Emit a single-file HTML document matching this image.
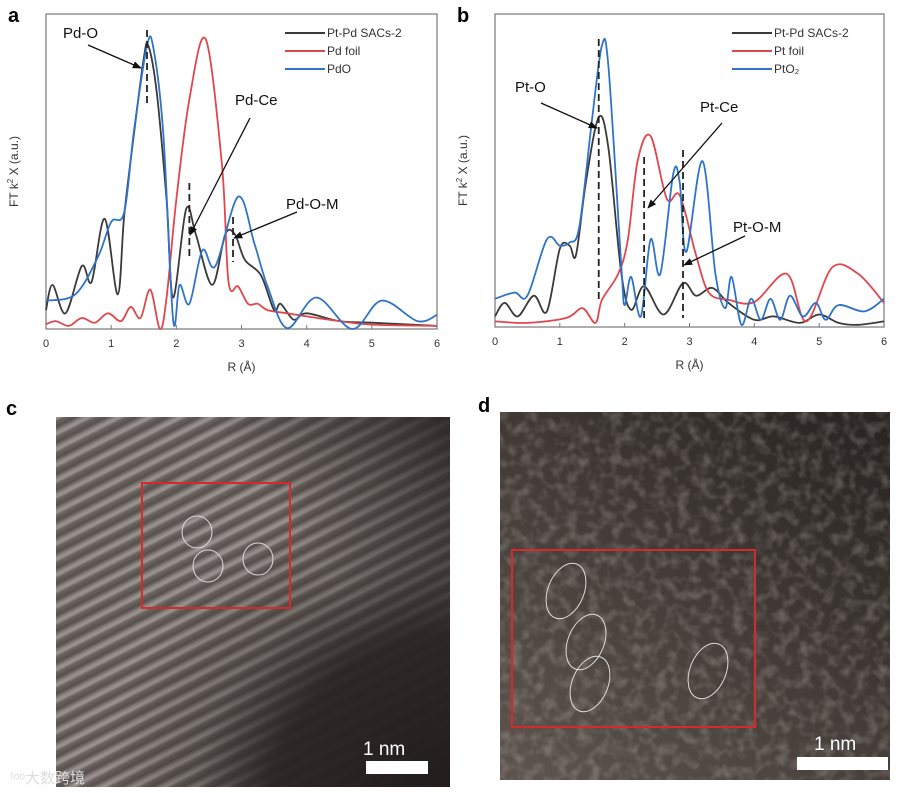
<!DOCTYPE html>
<html><head><meta charset="utf-8"><style>
body{margin:0;background:#fff;width:905px;height:793px;overflow:hidden;font-family:"Liberation Sans","Noto Sans CJK SC",sans-serif}
svg{position:absolute;left:0;top:0}
</style></head><body>
<svg id="fig" width="905" height="793" viewBox="0 0 905 793">
<defs>
<marker id="ah" viewBox="0 0 10 10" refX="9" refY="5" markerWidth="7" markerHeight="7" orient="auto"><path d="M0,1 L10,5 L0,9 z" fill="#111"/></marker>
<linearGradient id="sg" x1="0" y1="0" x2="0" y2="1">
<stop offset="0" stop-color="#57504d"/><stop offset="0.3" stop-color="#8f8884"/><stop offset="0.45" stop-color="#9c9591"/><stop offset="0.65" stop-color="#6a6360"/><stop offset="1" stop-color="#57504d"/>
</linearGradient>
<pattern id="stripes" width="14" height="14" patternUnits="userSpaceOnUse" patternTransform="rotate(-27)">
<rect width="14" height="14" fill="url(#sg)"/>
</pattern>
<radialGradient id="cdark" cx="1.05" cy="1.1" r="0.95">
<stop offset="0" stop-color="#1e1a19" stop-opacity="1"/><stop offset="0.55" stop-color="#2a2523" stop-opacity="0.95"/><stop offset="0.75" stop-color="#2a2523" stop-opacity="0.3"/><stop offset="1" stop-color="#2a2523" stop-opacity="0"/>
</radialGradient>
<linearGradient id="ctop" x1="1" y1="0" x2="0.6" y2="0.3"><stop offset="0" stop-color="#2a2523" stop-opacity="0.9"/><stop offset="1" stop-color="#2a2523" stop-opacity="0"/></linearGradient>
<filter id="noise" x="0" y="0" width="100%" height="100%"><feTurbulence type="fractalNoise" baseFrequency="0.09" numOctaves="2" seed="3"/><feColorMatrix type="matrix" values="0 0 0 0 0.62  0 0 0 0 0.56  0 0 0 0 0.52  0 0 0 1.2 -0.5"/></filter>
<linearGradient id="dgrad" x1="0.1" y1="1" x2="0.9" y2="0"><stop offset="0" stop-color="#5c534d"/><stop offset="0.5" stop-color="#433c38"/><stop offset="1" stop-color="#2a2522"/></linearGradient>
</defs>
<g id="chartA"></g>
<g id="chartB"></g>

<text x="6" y="415" font-size="20" font-weight="bold">c</text>
<g>
<rect x="56" y="417" width="394" height="370" fill="url(#stripes)"/>
<rect x="56" y="417" width="394" height="370" fill="url(#ctop)"/>
<rect x="56" y="417" width="394" height="370" fill="url(#cdark)"/>
<rect x="142" y="483" width="148" height="125" fill="none" stroke="#d42a2a" stroke-width="2"/>
<ellipse cx="197" cy="532" rx="15" ry="16" fill="none" stroke="#ddd" stroke-width="1"/>
<ellipse cx="208" cy="566" rx="15" ry="16" fill="none" stroke="#ddd" stroke-width="1"/>
<ellipse cx="258" cy="559" rx="15" ry="16" fill="none" stroke="#ddd" stroke-width="1"/>
<text x="363" y="755" font-size="19" fill="#fff">1 nm</text>
<rect x="366" y="761" width="62" height="13" fill="#fff"/>
<text x="10" y="783" font-size="15" fill="#ddd">⁽ᵒᵒ大数跨境</text>
</g>

<text x="478" y="412" font-size="20" font-weight="bold">d</text>
<g>
<rect x="500" y="412" width="390" height="368" fill="url(#dgrad)"/>
<rect x="500" y="412" width="390" height="368" filter="url(#noise)" opacity="0.55"/>
<rect x="512" y="550" width="243" height="177" fill="none" stroke="#d42a2a" stroke-width="2"/>
<ellipse cx="566" cy="591" rx="18" ry="29" transform="rotate(22 566 591)" fill="none" stroke="#ddd" stroke-width="1"/>
<ellipse cx="586" cy="642" rx="18" ry="29" transform="rotate(22 586 642)" fill="none" stroke="#ddd" stroke-width="1"/>
<ellipse cx="590" cy="684" rx="18" ry="29" transform="rotate(22 590 684)" fill="none" stroke="#ddd" stroke-width="1"/>
<ellipse cx="708" cy="671" rx="18" ry="29" transform="rotate(22 708 671)" fill="none" stroke="#ddd" stroke-width="1"/>
<text x="814" y="750" font-size="19" fill="#fff">1 nm</text>
<rect x="797" y="757" width="91" height="13" fill="#fff"/>
</g>
</svg>
<script>
const xTicks=[0,1,2,3,4,5,6];
const aBlackR=[0,0.1,0.3,0.55,0.7,0.9,1.1,1.2,1.35,1.5,1.57,1.7,1.85,1.95,2.15,2.3,2.55,2.75,2.9,3.05,3.3,3.5,3.6,3.8,4.0,4.5,5,6];
const aBlackY=[6,14,5,20,15,35,11,36,62,86,90,75,41,10,38,30,14,30,30,22,17,6,8,3,5,2.5,2,1];
const aRedR=[0,0.15,0.35,0.55,0.75,0.95,1.15,1.3,1.45,1.6,1.75,1.85,2.0,2.2,2.45,2.7,2.8,2.95,3.1,3.25,3.4,3.7,4.0,4.5,5,6];
const aRedY=[1.5,2.5,1,3.5,2,5,2.5,7,3.5,12.5,0,10,41,73,92,52,15,13.5,8,8,6,5,4,2.5,1.4,1];
const aBlueR=[0,0.45,0.8,1.0,1.2,1.35,1.55,1.65,1.8,1.95,2.05,2.2,2.4,2.6,2.95,3.2,3.4,3.7,4.15,4.7,5.15,5.7,6];
const aBlueY=[9,11,23,34,37,63,90,89,62,3,14,8,25,20,42,27,13.5,0.3,10,0,9,2.5,4.5];
const bBlackR=[0,0.15,0.35,0.6,0.8,1.0,1.15,1.25,1.4,1.6,1.75,1.95,2.1,2.3,2.6,2.9,3.1,3.35,3.6,4.0,4.3,4.7,5.0,5.3,5.6,6];
const bBlackY=[3.4,7.7,3.4,10,5,25,26,23,46,67,57,17,5.5,13,4,14,10,12.5,7.7,2.3,3.4,1.3,4,1.3,0.7,1.8];
const bRedR=[0,0.5,1.1,1.35,1.55,1.65,1.9,2.05,2.2,2.4,2.65,2.85,3.1,3.3,3.6,4.0,4.5,4.8,5.2,5.6,6];
const bRedY=[1.8,1.3,2.9,6,1.3,8.7,17,28,53,61,41,42,23,11,8.7,8,17,1.8,19,17,7.7];
const bBlueR=[0,0.3,0.5,0.8,1.0,1.15,1.3,1.5,1.65,1.75,1.95,2.0,2.1,2.25,2.4,2.55,2.75,2.85,2.95,3.2,3.4,3.55,3.65,3.8,3.95,4.1,4.25,4.4,4.55,4.75,4.95,5.1,5.3,5.7,6];
const bBlueY=[9,11,10,28,26,27,32,67,90,83,19,7,16,3.4,28,17,49,46,24,53,17,6,16,0.7,9,2.3,9,2.3,10,3.4,7.7,2.3,7,5,9];
const aLegend=["Pt-Pd SACs-2","Pd foil","PdO"];
const bLegend=["Pt-Pd SACs-2","Pt foil","PtO₂"];
const colors=["#3a3a3a","#e0474c","#2f74c8"];
const NS="http://www.w3.org/2000/svg";
function mk(tag,attrs,parent){const e=document.createElementNS(NS,tag);for(const k in attrs)e.setAttribute(k,attrs[k]);parent.appendChild(e);return e;}
function smooth(pts){let d="M"+pts[0][0].toFixed(1)+","+pts[0][1].toFixed(1);for(let i=0;i<pts.length-1;i++){const p0=pts[Math.max(0,i-1)],p1=pts[i],p2=pts[i+1],p3=pts[Math.min(pts.length-1,i+2)];const c1=[p1[0]+(p2[0]-p0[0])/6,p1[1]+(p2[1]-p0[1])/6],c2=[p2[0]-(p3[0]-p1[0])/6,p2[1]-(p3[1]-p1[1])/6];d+=" C"+c1[0].toFixed(1)+","+c1[1].toFixed(1)+" "+c2[0].toFixed(1)+","+c2[1].toFixed(1)+" "+p2[0].toFixed(1)+","+p2[1].toFixed(1);}return d;}
function chart(g,o){
 const xs=r=>o.x0+(o.x1-o.x0)*r/6, ys=v=>o.y1-(o.y1-o.y0)*v/100;
 const ti=mk("text",{x:o.x0-38,y:22,"font-size":20,"font-weight":"bold"},g);ti.textContent=o.label;
 
 
 const fr=mk("rect",{x:o.x0,y:o.y0,width:o.x1-o.x0,height:o.y1-o.y0,fill:"none",stroke:"#777","stroke-width":1.2},g);
 
 
 xTicks.forEach(t=>{const tk=mk("line",{x1:xs(t),x2:xs(t),y1:o.y1,y2:o.y1-4,stroke:"#777"},g);
  
  
  const tl=mk("text",{x:xs(t),y:o.y1+18,"font-size":11,"text-anchor":"middle",fill:"#333"},g);tl.textContent=t;
  
  });
 const xt=mk("text",{x:(o.x0+o.x1)/2,y:o.y1+42,"font-size":12,"text-anchor":"middle",fill:"#333"},g);xt.textContent="R (Å)";
 
 
 const cy=(o.y0+o.y1)/2;
 const yt=mk("text",{x:o.x0-28,y:cy,"font-size":12,"text-anchor":"middle",fill:"#333",transform:`rotate(-90 ${o.x0-28} ${cy})`},g);yt.innerHTML='FT k<tspan font-size="8" dy="-5">2</tspan><tspan dy="5"> X (a.u.)</tspan>';
 
 
 o.series.forEach((s,i)=>{const pts=s[0].map((r,j)=>[xs(r),ys(s[1][j])]);
  const p=mk("path",{d:smooth(pts),fill:"none",stroke:colors[i],"stroke-width":1.8},g);
  
  
  const ly=o.y0+19+i*18;
  const ll=mk("line",{x1:o.x1-152,x2:o.x1-112,y1:ly,y2:ly,stroke:colors[i],"stroke-width":2},g);
  
  
  const lt=mk("text",{x:o.x1-110,y:ly+4,"font-size":12,fill:"#333"},g);lt.textContent=o.legend[i];
  
  });
 o.dashes.forEach(d=>{const l=mk("line",{x1:xs(d[0]),x2:xs(d[0]),y1:d[1],y2:d[2],stroke:"#222","stroke-width":1.8,"stroke-dasharray":"7,4"},g);
  
  });
 o.notes.forEach(n=>{const t=mk("text",{x:n[1],y:n[2],"font-size":15,fill:"#111"},g);t.textContent=n[0];
  
  
  const a=mk("line",{x1:n[3],y1:n[4],x2:n[5],y2:n[6],stroke:"#111","stroke-width":1.3,"marker-end":"url(#ah)"},g);
  
  });
}
chart(document.getElementById("chartA"),{label:"a",x0:46,x1:437,y0:14,y1:329,legend:aLegend,
 series:[[aBlackR,aBlackY],[aRedR,aRedY],[aBlueR,aBlueY]],
 dashes:[[1.55,30,104],[2.2,183,260],[2.87,217,262]],
 notes:[["Pd-O",63,38,88,45,141,68],["Pd-Ce",235,105,250,118,190,235],["Pd-O-M",286,209,297,212,234,238]]});
chart(document.getElementById("chartB"),{label:"b",x0:495,x1:884,y0:14,y1:327,legend:bLegend,
 series:[[bBlackR,bBlackY],[bRedR,bRedY],[bBlueR,bBlueY]],
 dashes:[[1.6,39,302],[2.3,157,318],[2.9,150,318]],
 notes:[["Pt-O",515,92,541,103,597,128],["Pt-Ce",700,112,722,123,648,208],["Pt-O-M",733,232,745,236,684,265]]});
</script>
</body></html>
